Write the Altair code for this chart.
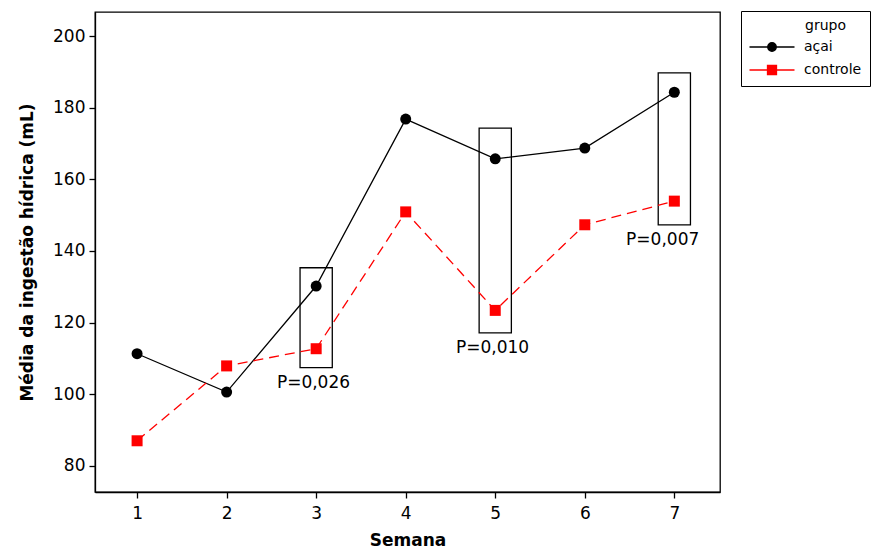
import altair as alt
import pandas as pd

# ---- data ----
semanas = [1, 2, 3, 4, 5, 6, 7]
acai = [111.3, 100.6, 130.2, 176.8, 165.7, 168.7, 184.3]
controle = [87.0, 107.9, 112.7, 150.9, 123.4, 147.3, 153.9]

box_semana = [3, 5, 7]
box_low = [107.4, 117.1, 147.3]
box_high = [135.3, 174.3, 189.7]
p_labels = ["P=0,026", "P=0,010", "P=0,007"]
p_x = [2.97, 4.97, 6.87]

grupos = ["açai", "controle"]
cores = ["#000000", "#ff0000"]

FONT = "DejaVu Sans"

df = pd.DataFrame({
    "Semana": semanas * 2,
    "valor": acai + controle,
    "grupo": ["açai"] * len(semanas) + ["controle"] * len(semanas),
})
boxes = pd.DataFrame({
    "x1": [s - 0.18 for s in box_semana],
    "x2": [s + 0.18 for s in box_semana],
    "lo": box_low,
    "hi": box_high,
})
labels = pd.DataFrame({"x": p_x, "y": box_low, "txt": p_labels})

xs = alt.Scale(domain=[0.53, 7.51], nice=False, zero=False)
ys = alt.Scale(domain=[72.7, 206.7], nice=False, zero=False)
color = alt.Scale(domain=grupos, range=cores)

circle_path = "M-5,0L5,0M-0.95,0A0.95,0.95 0 1,0 0.95,0A0.95,0.95 0 1,0 -0.95,0Z"
square_path = "M-5,0L5,0M-1,-1L1,-1L1,1L-1,1Z"

TITLE = "grupo"
legend = alt.Legend(
    title=TITLE,
    orient="none",
    legendX=646,
    legendY=-1,
    strokeColor="black",
    fillColor="white",
    padding=8,
    titleFont=FONT,
    titleFontSize=14,
    titleFontWeight="normal",
    titleColor="black",
    titleAnchor="middle",
    titleAlign="left",
    titlePadding=7,
    labelFont=FONT,
    labelFontSize=14,
    labelColor="black",
    symbolSize=81,
    symbolOffset=16,
    symbolStrokeWidth=1.3,
    symbolOpacity=1,
    labelOffset=25,
    rowPadding=8,
)

x_enc = alt.X("Semana:Q", scale=xs,
              axis=alt.Axis(values=semanas, title="Semana", format="d"))
y_enc = alt.Y("valor:Q", scale=ys,
              axis=alt.Axis(values=[80, 100, 120, 140, 160, 180, 200],
                            title="Média da ingestão hídrica (mL)"))

box_layer = alt.Chart(boxes).mark_rect(fill=None, stroke="black", strokeWidth=1.3).encode(
    x=alt.X("x1:Q", scale=xs), x2="x2:Q",
    y=alt.Y("lo:Q", scale=ys), y2="hi:Q",
)

line_a = alt.Chart(df).transform_filter(alt.datum.grupo == "açai").mark_line(
    strokeWidth=1.3, color=cores[0]
).encode(x=x_enc, y=y_enc)

line_c = alt.Chart(df).transform_filter(alt.datum.grupo == "controle").mark_line(
    strokeWidth=1.3, color=cores[1], strokeDash=[10, 6]
).encode(x=x_enc, y=y_enc)

circ_layer = alt.Chart(df).transform_filter(alt.datum.grupo == "açai").mark_point(
    filled=True, size=121, opacity=1, shape="circle", color=cores[0]
).encode(x=x_enc, y=y_enc)

sq_layer = alt.Chart(df).transform_filter(alt.datum.grupo == "controle").mark_point(
    filled=True, size=121, opacity=1, shape="square", color=cores[1]
).encode(x=x_enc, y=y_enc)

# legend-only layer: filtered to no rows, it feeds the legend only
legend_layer = alt.Chart(df).transform_filter("false").mark_point(
    filled=True, opacity=1, strokeWidth=1.3
).encode(
    x=x_enc, y=y_enc,
    color=alt.Color("grupo:N", scale=color, legend=legend, title=TITLE),
    stroke=alt.Stroke("grupo:N", scale=color, legend=legend, title=TITLE),
    shape=alt.Shape("grupo:N", scale=alt.Scale(domain=grupos, range=[circle_path, square_path]),
                    legend=legend, title=TITLE),
)

text_layer = alt.Chart(labels).mark_text(
    font=FONT, fontSize=17, baseline="top", align="center", dy=7, color="black"
).encode(
    x=alt.X("x:Q", scale=xs), y=alt.Y("y:Q", scale=ys), text="txt:N"
)

chart = alt.layer(box_layer, line_a, line_c, circ_layer, sq_layer, legend_layer, text_layer).properties(
    width=625, height=480,
    background="white",
    autosize=alt.AutoSizeParams(type="none"),
    padding={"left": 95, "top": 12, "right": 151, "bottom": 57},
).configure_view(
    stroke="black", strokeWidth=1.3
).configure_axis(
    grid=False,
    domainColor="black", domainWidth=1.3,
    tickColor="black", tickWidth=1.3, tickSize=6,
    labelFont=FONT, labelFontSize=17, labelColor="black",
    titleFont=FONT, titleFontSize=17, titleFontWeight="bold", titleColor="black",
).configure_axisY(
    titlePadding=16, labelPadding=4
).configure_axisX(
    titlePadding=11, labelPadding=7
)

chart.save("out.html", embed_options={"renderer": "svg", "actions": False})
